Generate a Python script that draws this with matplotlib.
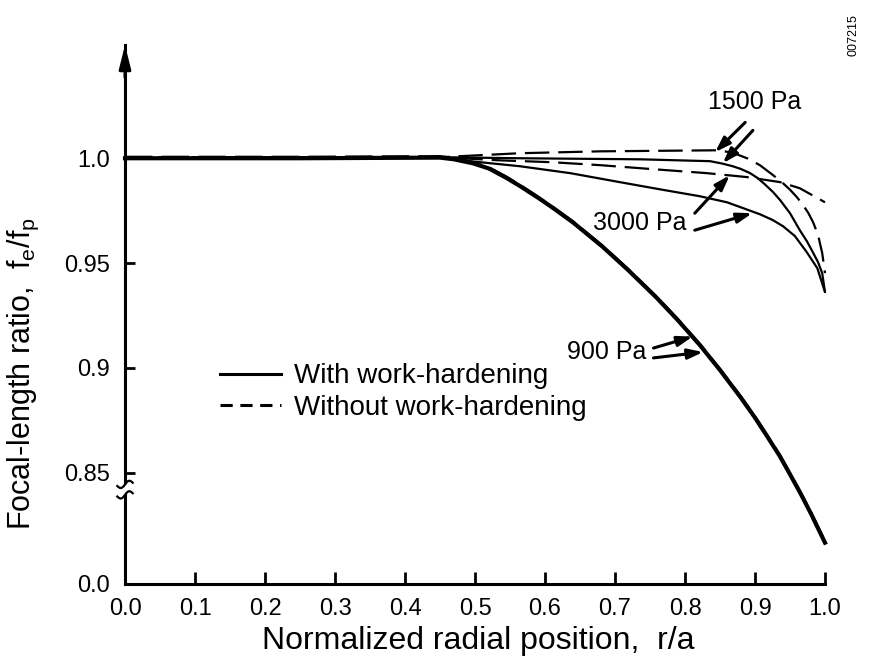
import numpy as np
import matplotlib
matplotlib.use("Agg")
import matplotlib.pyplot as plt

plt.rcParams['font.family'] = ['Liberation Sans', 'DejaVu Sans']
plt.rcParams['mathtext.fontset'] = 'custom'
plt.rcParams['mathtext.rm'] = 'Liberation Sans'
plt.rcParams['mathtext.it'] = 'Liberation Sans'

# focal-length ratio vs normalized radial position
r_900 = [0.0, 0.25, 0.45, 0.47, 0.497, 0.52, 0.545, 0.564, 0.59, 0.611, 0.64, 0.683, 0.72, 0.76, 0.79,
         0.821, 0.85, 0.879, 0.9, 0.917, 0.935, 0.95, 0.965, 0.98, 1.0]
f_900_wh = [1.0, 1.0, 1.0003, 0.9995, 0.9976, 0.9951, 0.9906, 0.9868, 0.9812, 0.9764, 0.9694, 0.9576,
            0.9463, 0.9333, 0.9227, 0.911, 0.899, 0.8862, 0.8763, 0.8676, 0.8582, 0.8493, 0.8402,
            0.8305, 0.8167]
f_900_nowh = [1.0005, 1.0005, 1.0008, 1.0, 0.998, 0.9955, 0.991, 0.9872, 0.9815, 0.9767, 0.9697,
              0.9579, 0.9466, 0.9336, 0.923, 0.9113, 0.8993, 0.8865, 0.8766, 0.8679, 0.8585,
              0.8496, 0.8405, 0.8308, 0.817]

r_1500_wh = [0.0, 0.45, 0.564, 0.736, 0.836, 0.854, 0.868, 0.879, 0.893, 0.904, 0.914, 0.926, 0.936,
             0.95, 0.964, 0.974, 0.981, 0.99, 0.996, 1.0]
f_1500_wh = [1.0, 1.0005, 1.0, 0.9995, 0.9986, 0.9974, 0.9962, 0.995, 0.9929, 0.9905, 0.9876,
             0.9838, 0.98, 0.9738, 0.9657, 0.9605, 0.9562, 0.9505, 0.9452, 0.9362]

r_1500_nowh = [0.0, 0.45, 0.564, 0.679, 0.846, 0.862, 0.874, 0.89, 0.907, 0.926, 0.94, 0.95, 0.96,
               0.969, 0.976, 0.983, 0.99, 0.996, 1.0]
f_1500_nowh = [1.0005, 1.0005, 1.0024, 1.0033, 1.0038, 1.003, 1.0019, 0.9998, 0.9967, 0.9919,
               0.9881, 0.985, 0.9814, 0.9775, 0.974, 0.9695, 0.9635, 0.9548, 0.9452]

r_3000_wh = [0.0, 0.45, 0.493, 0.564, 0.636, 0.707, 0.764, 0.821, 0.86, 0.879, 0.907, 0.925, 0.94,
             0.957, 0.974, 0.989, 1.0]
f_3000_wh = [1.0, 1.0005, 0.9986, 0.9962, 0.9929, 0.9886, 0.9852, 0.9819, 0.979, 0.9767, 0.9733,
             0.9706, 0.9676, 0.9629, 0.9552, 0.9476, 0.9362]

r_3000_nowh = [0.0, 0.45, 0.536, 0.611, 0.679, 0.754, 0.831, 0.889, 0.936, 0.964, 1.0]
f_3000_nowh = [1.0005, 1.0005, 0.999, 0.9981, 0.9967, 0.9948, 0.9929, 0.991, 0.9886, 0.9857, 0.979]

x_ticks = [0.0, 0.1, 0.2, 0.3, 0.4, 0.5, 0.6, 0.7, 0.8, 0.9, 1.0]
y_bottom = 0.797   # position of the "0.0" label below the axis break
y_ticks = [y_bottom, 0.85, 0.9, 0.95, 1.0]
y_ticklabels = ['0.0', '0.85', '0.9', '0.95', '1.0']
y_break = 0.842

fig = plt.figure(figsize=(8.69, 6.63), dpi=100)
ax = fig.add_axes([125 / 869, 79 / 663, 700 / 869, 539 / 663])

solid = dict(color='black', lw=1.6, solid_capstyle='round', clip_on=False)
dashed = dict(color='black', lw=1.6, linestyle=(0, (11, 4)), clip_on=False)

ax.plot(r_900, f_900_wh, color='black', lw=3.0, clip_on=False)
ax.plot(r_900, f_900_nowh, color='black', lw=2.2, linestyle=(0, (9, 3)), clip_on=False)
ax.plot(r_1500_wh, f_1500_wh, **solid)
ax.plot(r_1500_nowh, f_1500_nowh, **dashed)
ax.plot(r_3000_wh, f_3000_wh, **solid)
ax.plot(r_3000_nowh, f_3000_nowh, **dashed)

ax.set_xlim(0, 1.0)
ax.set_ylim(y_bottom, 1.054)
ax.set_xticks(x_ticks)
ax.set_xticklabels(['%.1f' % v for v in x_ticks])
ax.set_yticks(y_ticks)
ax.set_yticklabels(y_ticklabels)

for side in ('top', 'right'):
    ax.spines[side].set_visible(False)
for side in ('left', 'bottom'):
    ax.spines[side].set_linewidth(2.2)
ax.tick_params(axis='x', direction='in', length=9, width=2, pad=10, labelsize=17)
ax.tick_params(axis='y', direction='in', length=7, width=2, pad=11, labelsize=17)
ax.yaxis.get_major_ticks()[0].tick1line.set_visible(False)

# arrow head on the y axis
ax.annotate('', xy=(0, 1.0), xycoords='axes fraction', xytext=(0, 0.94),
            arrowprops=dict(arrowstyle='-|>,head_length=1.4,head_width=0.35',
                            lw=2.2, color='black', shrinkA=0, shrinkB=0))

# axis break marks
tb = ax.get_yaxis_transform()
u = np.linspace(-1, 1, 30)
wx = 0.011 * u
wave = 0.0013 * np.sin(np.pi * u) + 0.0008 * u
ax.fill_between(wx, y_break - 0.0022 + wave, y_break + 0.0022 + wave, color='white',
                transform=tb, zorder=3, clip_on=False, lw=0)
ax.plot(wx, y_break - 0.0025 + wave, color='black', lw=1.6, transform=tb, zorder=4, clip_on=False)
ax.plot(wx, y_break + 0.0025 + wave, color='black', lw=1.6, transform=tb, zorder=4, clip_on=False)

ax.set_xlabel('Normalized radial position,  r/a', fontsize=23, va='center')
ax.xaxis.set_label_coords(0.504, -0.106)
ax.set_ylabel(r'Focal-length ratio,  f$_\mathrm{e}$/f$_\mathrm{p}$', fontsize=22, va='center')
ax.yaxis.set_label_coords(-0.145, 0.39)

# pressure labels with arrows pointing at their curves
arrow = dict(arrowstyle='-|>,head_length=0.9,head_width=0.3', lw=2.2, color='black',
             shrinkA=0, shrinkB=0)
ax.text(0.90, 1.0267, '1500 Pa', fontsize=18, ha='center', va='center')
ax.annotate('', xy=(0.843, 1.0029), xytext=(0.886, 1.0171), arrowprops=arrow)
ax.annotate('', xy=(0.854, 0.9976), xytext=(0.897, 1.0133), arrowprops=arrow)

ax.text(0.736, 0.969, '3000 Pa', fontsize=18, ha='center', va='center')
ax.annotate('', xy=(0.864, 0.9919), xytext=(0.814, 0.9738), arrowprops=arrow)
ax.annotate('', xy=(0.896, 0.9738), xytext=(0.814, 0.9657), arrowprops=arrow)

ax.text(0.688, 0.9076, '900 Pa', fontsize=18, ha='center', va='center')
ax.annotate('', xy=(0.811, 0.915), xytext=(0.755, 0.9095), arrowprops=arrow)
ax.annotate('', xy=(0.826, 0.9076), xytext=(0.755, 0.9048), arrowprops=arrow)

leg_solid, = ax.plot([], [], color='black', lw=2.2)
leg_dash, = ax.plot([], [], color='black', lw=2.2, linestyle=(0, (4, 2.5)))
ax.legend([leg_solid, leg_dash], ['With work-hardening', 'Without work-hardening'],
          loc='upper left', bbox_to_anchor=(0.116, 0.435), frameon=False, fontsize=20,
          handlelength=2.2, handletextpad=0.45, labelspacing=0.2, borderpad=0)

fig.text(0.982, 0.947, '007215', rotation=90, fontsize=9, ha='center', va='center')

fig.savefig('out.png', dpi=100)
